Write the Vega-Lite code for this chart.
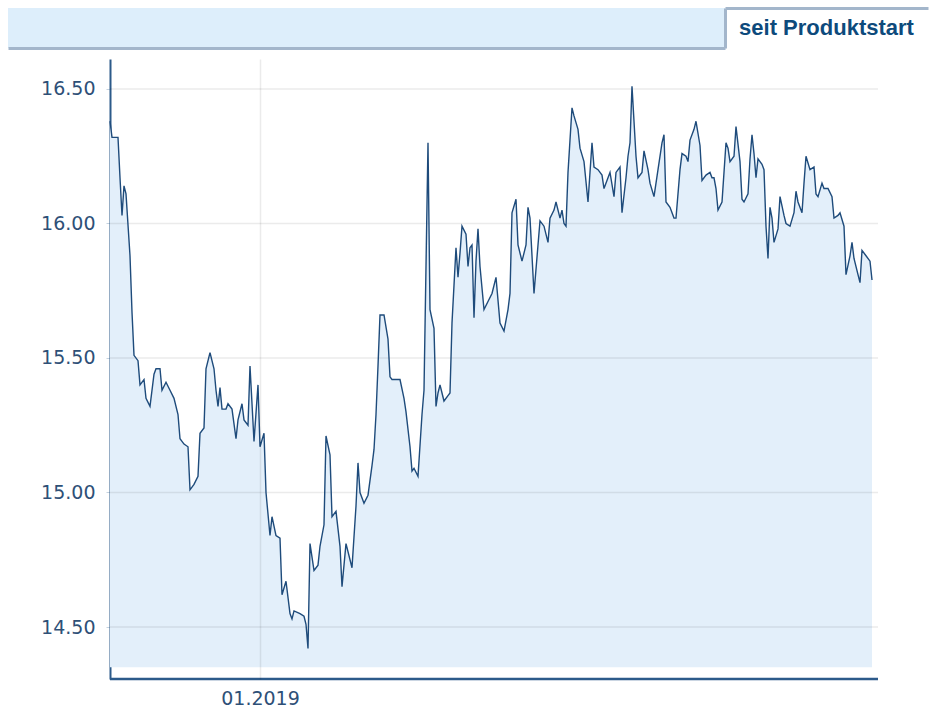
{
  "$schema": "https://vega.github.io/schema/vega-lite/v6.json",
  "background": "white",
  "padding": {"left": 8, "top": 8, "right": 2, "bottom": 0},
  "autosize": {"type": "pad"},
  "config": {"view": {"stroke": null}, "font": "DejaVu Sans"},
  "spacing": 11,
  "datasets": {
    "tabs": [{"tab": "seit Produktstart"}],
    "levels": [{"level": 14.5}, {"level": 15.0}, {"level": 15.5}, {"level": 16.0}, {"level": 16.5}],
    "prices": [
      {"date": "2018-10-18", "price": 16.38},
      {"date": "2018-10-19", "price": 16.32},
      {"date": "2018-10-22", "price": 16.32},
      {"date": "2018-10-23", "price": 16.17},
      {"date": "2018-10-24", "price": 16.03},
      {"date": "2018-10-25", "price": 16.14},
      {"date": "2018-10-26", "price": 16.11},
      {"date": "2018-10-28", "price": 15.88},
      {"date": "2018-10-29", "price": 15.67},
      {"date": "2018-10-30", "price": 15.51},
      {"date": "2018-11-01", "price": 15.49},
      {"date": "2018-11-02", "price": 15.40},
      {"date": "2018-11-04", "price": 15.42},
      {"date": "2018-11-05", "price": 15.35},
      {"date": "2018-11-07", "price": 15.32},
      {"date": "2018-11-09", "price": 15.44},
      {"date": "2018-11-10", "price": 15.46},
      {"date": "2018-11-12", "price": 15.46},
      {"date": "2018-11-13", "price": 15.38},
      {"date": "2018-11-15", "price": 15.41},
      {"date": "2018-11-17", "price": 15.38},
      {"date": "2018-11-19", "price": 15.35},
      {"date": "2018-11-21", "price": 15.29},
      {"date": "2018-11-22", "price": 15.20},
      {"date": "2018-11-23", "price": 15.19},
      {"date": "2018-11-24", "price": 15.18},
      {"date": "2018-11-26", "price": 15.17},
      {"date": "2018-11-27", "price": 15.01},
      {"date": "2018-11-29", "price": 15.03},
      {"date": "2018-12-01", "price": 15.06},
      {"date": "2018-12-02", "price": 15.22},
      {"date": "2018-12-04", "price": 15.24},
      {"date": "2018-12-05", "price": 15.46},
      {"date": "2018-12-07", "price": 15.52},
      {"date": "2018-12-09", "price": 15.46},
      {"date": "2018-12-10", "price": 15.38},
      {"date": "2018-12-11", "price": 15.32},
      {"date": "2018-12-12", "price": 15.39},
      {"date": "2018-12-13", "price": 15.31},
      {"date": "2018-12-15", "price": 15.31},
      {"date": "2018-12-16", "price": 15.33},
      {"date": "2018-12-18", "price": 15.31},
      {"date": "2018-12-20", "price": 15.20},
      {"date": "2018-12-21", "price": 15.27},
      {"date": "2018-12-23", "price": 15.33},
      {"date": "2018-12-24", "price": 15.27},
      {"date": "2018-12-26", "price": 15.25},
      {"date": "2018-12-27", "price": 15.47},
      {"date": "2018-12-29", "price": 15.19},
      {"date": "2018-12-31", "price": 15.40},
      {"date": "2019-01-01", "price": 15.17},
      {"date": "2019-01-03", "price": 15.22},
      {"date": "2019-01-04", "price": 15.00},
      {"date": "2019-01-06", "price": 14.84},
      {"date": "2019-01-07", "price": 14.91},
      {"date": "2019-01-09", "price": 14.84},
      {"date": "2019-01-11", "price": 14.83},
      {"date": "2019-01-12", "price": 14.62},
      {"date": "2019-01-14", "price": 14.67},
      {"date": "2019-01-16", "price": 14.55},
      {"date": "2019-01-17", "price": 14.53},
      {"date": "2019-01-18", "price": 14.56},
      {"date": "2019-01-21", "price": 14.55},
      {"date": "2019-01-23", "price": 14.54},
      {"date": "2019-01-24", "price": 14.51},
      {"date": "2019-01-25", "price": 14.42},
      {"date": "2019-01-26", "price": 14.81},
      {"date": "2019-01-28", "price": 14.71},
      {"date": "2019-01-30", "price": 14.73},
      {"date": "2019-01-31", "price": 14.80},
      {"date": "2019-02-02", "price": 14.88},
      {"date": "2019-02-03", "price": 15.21},
      {"date": "2019-02-05", "price": 15.14},
      {"date": "2019-02-06", "price": 14.91},
      {"date": "2019-02-08", "price": 14.93},
      {"date": "2019-02-10", "price": 14.80},
      {"date": "2019-02-11", "price": 14.65},
      {"date": "2019-02-13", "price": 14.81},
      {"date": "2019-02-15", "price": 14.75},
      {"date": "2019-02-16", "price": 14.72},
      {"date": "2019-02-18", "price": 14.95},
      {"date": "2019-02-19", "price": 15.11},
      {"date": "2019-02-20", "price": 15.00},
      {"date": "2019-02-22", "price": 14.96},
      {"date": "2019-02-24", "price": 14.99},
      {"date": "2019-02-26", "price": 15.10},
      {"date": "2019-02-27", "price": 15.16},
      {"date": "2019-02-28", "price": 15.29},
      {"date": "2019-03-01", "price": 15.47},
      {"date": "2019-03-02", "price": 15.66},
      {"date": "2019-03-04", "price": 15.66},
      {"date": "2019-03-06", "price": 15.57},
      {"date": "2019-03-07", "price": 15.43},
      {"date": "2019-03-08", "price": 15.42},
      {"date": "2019-03-12", "price": 15.42},
      {"date": "2019-03-14", "price": 15.35},
      {"date": "2019-03-15", "price": 15.30},
      {"date": "2019-03-17", "price": 15.17},
      {"date": "2019-03-18", "price": 15.08},
      {"date": "2019-03-19", "price": 15.09},
      {"date": "2019-03-21", "price": 15.06},
      {"date": "2019-03-23", "price": 15.29},
      {"date": "2019-03-24", "price": 15.38},
      {"date": "2019-03-25", "price": 15.84},
      {"date": "2019-03-26", "price": 16.30},
      {"date": "2019-03-27", "price": 15.68},
      {"date": "2019-03-29", "price": 15.61},
      {"date": "2019-03-30", "price": 15.32},
      {"date": "2019-03-31", "price": 15.37},
      {"date": "2019-04-01", "price": 15.40},
      {"date": "2019-04-02", "price": 15.37},
      {"date": "2019-04-03", "price": 15.34},
      {"date": "2019-04-05", "price": 15.36},
      {"date": "2019-04-06", "price": 15.37},
      {"date": "2019-04-07", "price": 15.63},
      {"date": "2019-04-08", "price": 15.77},
      {"date": "2019-04-09", "price": 15.91},
      {"date": "2019-04-10", "price": 15.80},
      {"date": "2019-04-11", "price": 15.89},
      {"date": "2019-04-12", "price": 15.99},
      {"date": "2019-04-14", "price": 15.96},
      {"date": "2019-04-15", "price": 15.84},
      {"date": "2019-04-16", "price": 15.91},
      {"date": "2019-04-17", "price": 15.92},
      {"date": "2019-04-18", "price": 15.65},
      {"date": "2019-04-19", "price": 15.86},
      {"date": "2019-04-20", "price": 15.98},
      {"date": "2019-04-21", "price": 15.84},
      {"date": "2019-04-23", "price": 15.68},
      {"date": "2019-04-25", "price": 15.71},
      {"date": "2019-04-27", "price": 15.74},
      {"date": "2019-04-29", "price": 15.80},
      {"date": "2019-05-01", "price": 15.63},
      {"date": "2019-05-03", "price": 15.60},
      {"date": "2019-05-05", "price": 15.68},
      {"date": "2019-05-06", "price": 15.74},
      {"date": "2019-05-07", "price": 16.04},
      {"date": "2019-05-09", "price": 16.09},
      {"date": "2019-05-10", "price": 15.92},
      {"date": "2019-05-12", "price": 15.86},
      {"date": "2019-05-14", "price": 15.92},
      {"date": "2019-05-15", "price": 16.06},
      {"date": "2019-05-16", "price": 16.02},
      {"date": "2019-05-18", "price": 15.74},
      {"date": "2019-05-20", "price": 15.92},
      {"date": "2019-05-21", "price": 16.01},
      {"date": "2019-05-23", "price": 15.99},
      {"date": "2019-05-25", "price": 15.93},
      {"date": "2019-05-26", "price": 16.02},
      {"date": "2019-05-28", "price": 16.05},
      {"date": "2019-05-29", "price": 16.08},
      {"date": "2019-05-31", "price": 16.02},
      {"date": "2019-06-01", "price": 16.05},
      {"date": "2019-06-02", "price": 16.00},
      {"date": "2019-06-03", "price": 15.99},
      {"date": "2019-06-04", "price": 16.19},
      {"date": "2019-06-06", "price": 16.43},
      {"date": "2019-06-07", "price": 16.40},
      {"date": "2019-06-09", "price": 16.35},
      {"date": "2019-06-10", "price": 16.28},
      {"date": "2019-06-12", "price": 16.23},
      {"date": "2019-06-14", "price": 16.08},
      {"date": "2019-06-16", "price": 16.30},
      {"date": "2019-06-17", "price": 16.21},
      {"date": "2019-06-19", "price": 16.20},
      {"date": "2019-06-21", "price": 16.18},
      {"date": "2019-06-22", "price": 16.13},
      {"date": "2019-06-24", "price": 16.17},
      {"date": "2019-06-25", "price": 16.19},
      {"date": "2019-06-27", "price": 16.10},
      {"date": "2019-06-28", "price": 16.19},
      {"date": "2019-06-30", "price": 16.21},
      {"date": "2019-07-01", "price": 16.04},
      {"date": "2019-07-03", "price": 16.17},
      {"date": "2019-07-04", "price": 16.25},
      {"date": "2019-07-05", "price": 16.30},
      {"date": "2019-07-06", "price": 16.51},
      {"date": "2019-07-07", "price": 16.38},
      {"date": "2019-07-08", "price": 16.25},
      {"date": "2019-07-09", "price": 16.17},
      {"date": "2019-07-11", "price": 16.19},
      {"date": "2019-07-12", "price": 16.27},
      {"date": "2019-07-14", "price": 16.20},
      {"date": "2019-07-15", "price": 16.15},
      {"date": "2019-07-17", "price": 16.10},
      {"date": "2019-07-19", "price": 16.20},
      {"date": "2019-07-21", "price": 16.30},
      {"date": "2019-07-22", "price": 16.33},
      {"date": "2019-07-23", "price": 16.08},
      {"date": "2019-07-25", "price": 16.06},
      {"date": "2019-07-27", "price": 16.02},
      {"date": "2019-07-28", "price": 16.02},
      {"date": "2019-07-30", "price": 16.20},
      {"date": "2019-07-31", "price": 16.26},
      {"date": "2019-08-02", "price": 16.25},
      {"date": "2019-08-03", "price": 16.23},
      {"date": "2019-08-04", "price": 16.31},
      {"date": "2019-08-06", "price": 16.35},
      {"date": "2019-08-07", "price": 16.38},
      {"date": "2019-08-09", "price": 16.29},
      {"date": "2019-08-10", "price": 16.16},
      {"date": "2019-08-12", "price": 16.18},
      {"date": "2019-08-14", "price": 16.19},
      {"date": "2019-08-15", "price": 16.17},
      {"date": "2019-08-16", "price": 16.17},
      {"date": "2019-08-17", "price": 16.13},
      {"date": "2019-08-18", "price": 16.05},
      {"date": "2019-08-20", "price": 16.08},
      {"date": "2019-08-21", "price": 16.19},
      {"date": "2019-08-22", "price": 16.30},
      {"date": "2019-08-23", "price": 16.28},
      {"date": "2019-08-24", "price": 16.23},
      {"date": "2019-08-26", "price": 16.25},
      {"date": "2019-08-27", "price": 16.36},
      {"date": "2019-08-29", "price": 16.23},
      {"date": "2019-08-30", "price": 16.09},
      {"date": "2019-08-31", "price": 16.08},
      {"date": "2019-09-02", "price": 16.11},
      {"date": "2019-09-03", "price": 16.24},
      {"date": "2019-09-04", "price": 16.33},
      {"date": "2019-09-05", "price": 16.26},
      {"date": "2019-09-06", "price": 16.17},
      {"date": "2019-09-07", "price": 16.24},
      {"date": "2019-09-09", "price": 16.22},
      {"date": "2019-09-10", "price": 16.20},
      {"date": "2019-09-11", "price": 15.99},
      {"date": "2019-09-12", "price": 15.87},
      {"date": "2019-09-13", "price": 16.06},
      {"date": "2019-09-14", "price": 16.02},
      {"date": "2019-09-15", "price": 15.93},
      {"date": "2019-09-17", "price": 15.98},
      {"date": "2019-09-18", "price": 16.10},
      {"date": "2019-09-20", "price": 16.03},
      {"date": "2019-09-21", "price": 16.00},
      {"date": "2019-09-23", "price": 15.99},
      {"date": "2019-09-25", "price": 16.04},
      {"date": "2019-09-26", "price": 16.12},
      {"date": "2019-09-27", "price": 16.08},
      {"date": "2019-09-29", "price": 16.04},
      {"date": "2019-09-30", "price": 16.15},
      {"date": "2019-10-01", "price": 16.25},
      {"date": "2019-10-03", "price": 16.20},
      {"date": "2019-10-05", "price": 16.21},
      {"date": "2019-10-06", "price": 16.11},
      {"date": "2019-10-07", "price": 16.10},
      {"date": "2019-10-09", "price": 16.15},
      {"date": "2019-10-10", "price": 16.13},
      {"date": "2019-10-12", "price": 16.13},
      {"date": "2019-10-14", "price": 16.10},
      {"date": "2019-10-15", "price": 16.02},
      {"date": "2019-10-17", "price": 16.03},
      {"date": "2019-10-18", "price": 16.04},
      {"date": "2019-10-20", "price": 15.99},
      {"date": "2019-10-21", "price": 15.81},
      {"date": "2019-10-23", "price": 15.88},
      {"date": "2019-10-24", "price": 15.93},
      {"date": "2019-10-25", "price": 15.87},
      {"date": "2019-10-27", "price": 15.81},
      {"date": "2019-10-28", "price": 15.78},
      {"date": "2019-10-29", "price": 15.90},
      {"date": "2019-10-31", "price": 15.88},
      {"date": "2019-11-02", "price": 15.86},
      {"date": "2019-11-03", "price": 15.79}
    ]
  },
  "vconcat": [
    {
      "spacing": 0,
      "hconcat": [
        {
          "width": 717,
          "height": 40,
          "view": {"fill": "#DDEEFB", "stroke": null},
          "data": {"name": "tabs"},
          "mark": {"type": "text", "opacity": 0},
          "encoding": {
            "x": {"field": "tab", "type": "nominal", "axis": {"title": null, "labels": false, "ticks": false, "grid": false, "domainColor": "#A3B6CB", "domainWidth": 3}},
            "text": {"value": ""}
          }
        },
        {
          "width": 203,
          "height": 40,
          "view": {"fill": "white", "stroke": null},
          "data": {"name": "tabs"},
          "mark": {"type": "text", "font": "Liberation Sans", "fontWeight": "bold", "fontSize": 22, "color": "#0D4A7C"},
          "encoding": {
            "x": {"field": "tab", "type": "nominal", "axis": {"orient": "top", "title": null, "labels": false, "ticks": false, "grid": false, "domainColor": "#A3B6CB", "domainWidth": 3}},
            "y": {"field": "tab", "type": "nominal", "axis": {"orient": "left", "title": null, "labels": false, "ticks": false, "grid": false, "domainColor": "#A3B6CB", "domainWidth": 3}},
            "text": {"field": "tab"}
          }
        }
      ]
    },
    {
      "width": 870,
      "height": 620,
      "layer": [
        {
          "data": {"name": "prices"},
          "mark": {"type": "area", "color": "#E3EFFA", "opacity": 1},
          "encoding": {
            "x": {
              "field": "date",
              "type": "temporal",
              "scale": {"type": "utc", "domain": [1535414400000, 1572998400000]},
              "axis": {
                "title": null,
                "values": [1546300800000],
                "format": "%m.%Y",
                "labelFont": "DejaVu Sans",
                "labelFontSize": 19,
                "labelColor": "#2E5077",
                "labelPadding": 10,
                "ticks": false,
                "domain": false,
                "grid": true,
                "gridColor": "#000000",
                "gridOpacity": 0.08,
                "gridWidth": 1.5,
                "zindex": 1
              }
            },
            "y": {
              "field": "price",
              "type": "quantitative",
              "scale": {"domain": [14.3067, 16.6115], "nice": false, "zero": false},
              "axis": {
                "title": null,
                "offset": -102,
                "values": [14.5, 15, 15.5, 16, 16.5],
                "format": ".2f",
                "labelFont": "DejaVu Sans",
                "labelFontSize": 19,
                "labelColor": "#2E5077",
                "labelPadding": 11,
                "tickSize": 4,
                "tickColor": "#C5D2DF",
                "domainColor": "#2C5A8A",
                "domainWidth": 2,
                "grid": false
              }
            },
            "y2": {"datum": 14.35}
          }
        },
        {
          "data": {"name": "levels"},
          "mark": {"type": "rule", "color": "#000000", "opacity": 0.08, "strokeWidth": 1.5},
          "encoding": {
            "y": {"field": "level", "type": "quantitative"},
            "x": {"datum": 1539820800000, "type": "temporal"},
            "x2": {"datum": 1572998400000}
          }
        },
        {
          "data": {"name": "prices"},
          "mark": {"type": "line", "color": "#1E4B7B", "strokeWidth": 1.4},
          "encoding": {
            "x": {"field": "date", "type": "temporal"},
            "y": {"field": "price", "type": "quantitative"}
          }
        },
        {
          "data": {"name": "tabs"},
          "mark": {"type": "rule", "color": "#2C5A8A", "strokeWidth": 2.5},
          "encoding": {
            "y": {"datum": 14.3067, "type": "quantitative"},
            "x": {"datum": 1539820800000, "type": "temporal"},
            "x2": {"datum": 1572998400000}
          }
        }
      ]
    }
  ]
}
